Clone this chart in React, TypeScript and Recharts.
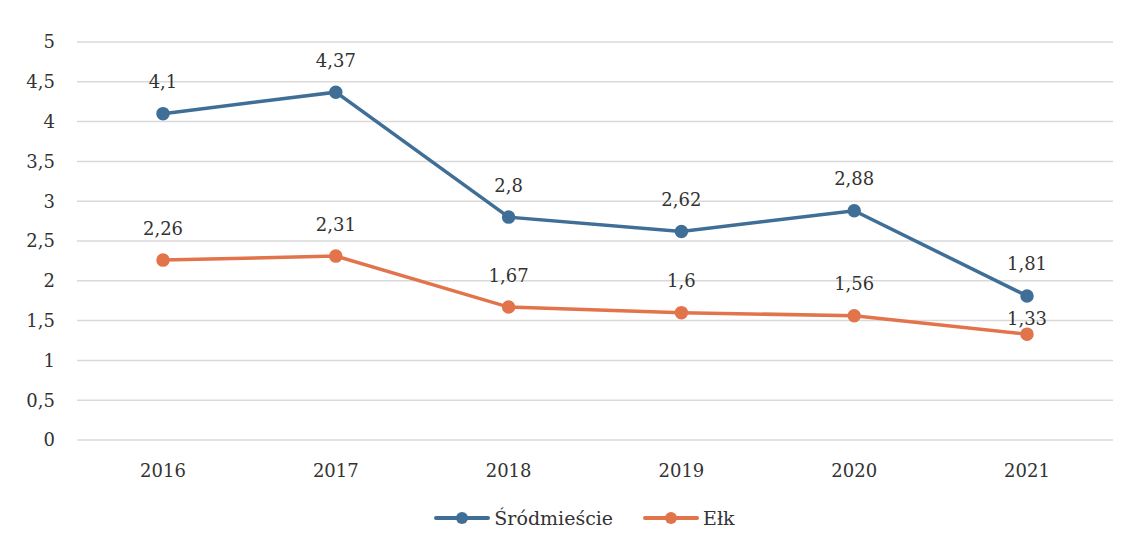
import { CartesianGrid, LabelList, Legend, Line, LineChart, XAxis, YAxis } from "recharts";

const years = ["2016", "2017", "2018", "2019", "2020", "2021"];
const srodmiescie = [4.1, 4.37, 2.8, 2.62, 2.88, 1.81];
const elk = [2.26, 2.31, 1.67, 1.6, 1.56, 1.33];
const yTicks = [0, 0.5, 1, 1.5, 2, 2.5, 3, 3.5, 4, 4.5, 5];

const BLUE = "#3F6E97";
const ORANGE = "#E2744B";
const SERIF = "'DejaVu Serif', 'Liberation Serif', serif";

const data = years.map((year, i) => ({
  year,
  srodmiescie: srodmiescie[i],
  elk: elk[i],
}));

const fmt = (v: number) => String(v).replace(".", ",");

function makeLabel(closeIndex: number) {
  return (props: any) => {
    const { x, y, value, index } = props;
    const off = index === closeIndex ? 16 : 32;
    return (
      <text
        x={x}
        y={y - off}
        textAnchor="middle"
        dominantBaseline="central"
        fill="#333"
        fontSize={18}
        fontFamily={SERIF}
      >
        {fmt(value)}
      </text>
    );
  };
}

export default function App() {
  return (
    <div style={{ position: "absolute", left: 0, top: 0, background: "#fff" }}>
      <LineChart
        width={1128}
        height={546}
        data={data}
        margin={{ top: 42, right: 15, left: 0, bottom: 6 }}
      >
        <CartesianGrid vertical={false} stroke="#D9D9D9" strokeWidth={1.5} />
        <XAxis
          dataKey="year"
          axisLine={false}
          tickLine={false}
          tickMargin={18}
          height={50}
          padding={{ left: 86, right: 86 }}
          tick={{ fill: "#333", fontSize: 18, fontFamily: SERIF }}
        />
        <YAxis
          domain={[0, 5]}
          ticks={yTicks}
          interval={0}
          axisLine={false}
          tickLine={false}
          tickSize={0}
          tickMargin={22}
          width={77}
          tickFormatter={(v) => fmt(v)}
          tick={{ fill: "#333", fontSize: 18, fontFamily: SERIF }}
        />
        <Legend
          verticalAlign="bottom"
          height={50}
          content={() => (
            <div
              style={{
                display: "flex",
                justifyContent: "center",
                alignItems: "center",
                gap: 30,
                fontFamily: SERIF,
                fontSize: 19,
                color: "#333",
                paddingTop: 17,
                paddingLeft: 56,
              }}
            >
              {[
                { name: "Śródmieście", color: BLUE },
                { name: "Ełk", color: ORANGE },
              ].map((it) => (
                <span key={it.name} style={{ display: "flex", alignItems: "center", gap: 4 }}>
                  <svg width={56} height={14}>
                    <line x1={2} y1={7} x2={54} y2={7} stroke={it.color} strokeWidth={4} strokeLinecap="round" />
                    <circle cx={28} cy={7} r={6} fill={it.color} />
                  </svg>
                  {it.name}
                </span>
              ))}
            </div>
          )}
        />
        <Line
          dataKey="srodmiescie"
          name="Śródmieście"
          stroke={BLUE}
          strokeWidth={3.5}
          dot={{ r: 5, fill: BLUE, stroke: BLUE }}
          isAnimationActive={false}
        >
          <LabelList dataKey="srodmiescie" content={makeLabel(-1)} />
        </Line>
        <Line
          dataKey="elk"
          name="Ełk"
          stroke={ORANGE}
          strokeWidth={3.5}
          dot={{ r: 5, fill: ORANGE, stroke: ORANGE }}
          isAnimationActive={false}
        >
          <LabelList dataKey="elk" content={makeLabel(5)} />
        </Line>
      </LineChart>
    </div>
  );
}
